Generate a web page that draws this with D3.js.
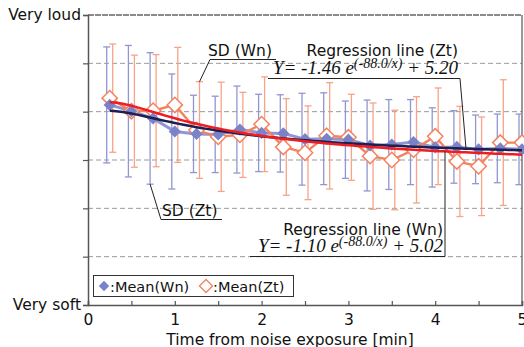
<!DOCTYPE html>
<html>
<head>
<meta charset="utf-8">
<script src="https://cdn.jsdelivr.net/npm/d3@7"></script>
<style>
  body { margin: 0; background: #fff; }
  text { font-family: "DejaVu Sans", Arial, sans-serif; fill: #111; }
  .eq { font-family: "Liberation Serif", "Times New Roman", serif; font-style: italic; }
</style>
</head>
<body>
<div id="main"></div>
<script>
const W = 524, H = 347;

// time from noise exposure [min]
const times = [0.25, 0.5, 0.75, 1.0, 1.25, 1.5, 1.75, 2.0, 2.25, 2.5,
               2.75, 3.0, 3.25, 3.5, 3.75, 4.0, 4.25, 4.5, 4.75, 5.0];
// Wn : means and SD
const meanWn = [5.14, 5.01, 4.86, 4.59, 4.54, 4.53, 4.63, 4.56, 4.55, 4.43,
                4.44, 4.42, 4.30, 4.32, 4.37, 4.26, 4.27, 4.22, 4.24, 4.22];
const sdWn   = [1.20, 1.36, 1.36, 1.19, 0.80, 0.79, 0.90, 0.80, 0.80, 0.95,
                0.95, 0.80, 0.94, 0.93, 0.88, 0.82, 0.75, 0.71, 0.71, 0.73];
// Zt : means and SD
const meanZt = [5.28, 5.01, 5.02, 5.14, 4.62, 4.48, 4.52, 4.74, 4.27, 4.15,
                4.50, 4.47, 4.08, 4.00, 4.21, 4.49, 3.97, 3.87, 4.36, 4.36];
const sdZt   = [1.12, 1.16, 1.16, 1.19, 1.00, 1.13, 0.88, 0.98, 1.00, 0.97,
                1.10, 0.89, 1.10, 1.03, 1.10, 1.00, 1.14, 1.02, 1.30, 1.20];
// regression Y = a e^(-b/x) + c, x in seconds
const regWn = [-1.10, 88.0, 5.02];
const regZt = [-1.46, 88.0, 5.20];

const xTicks = [0, 1, 2, 3, 4, 5];
const yLabels = ["Very soft", "Very loud"];

const C = {
    blue: "#7b83c8", blueBar: "#9096d2",
    orange: "#f4825f", orangeBar: "#f8a388",
    navy: "#1d1e52", red: "#ee1d23"
};
const FS = 15.5;

const svg = d3.select("#main").append("svg").attr("width", W).attr("height", H);

const x = d3.scaleLinear().domain([0, 5]).range([88, 522]);
const y = d3.scaleLinear().domain([1, 7]).range([305, 15]);

function reg(p, t) { return p[0] * Math.exp(-p[1] / (t * 60)) + p[2]; }

// grid lines
svg.append("g").selectAll("line")
    .data([2, 3, 4, 5, 6])
    .enter().append("line")
    .attr("x1", x(0)).attr("x2", x(5))
    .attr("y1", d => y(d)).attr("y2", d => y(d))
    .attr("stroke", "#9a9a9a").attr("stroke-dasharray", "5,3");
// top and right frame
svg.append("line").attr("x1", x(0)).attr("x2", x(5)).attr("y1", y(7)).attr("y2", y(7))
    .attr("stroke", "#666").attr("stroke-width", 1.5).attr("stroke-dasharray", "6,1");
svg.append("line").attr("x1", x(5)).attr("x2", x(5)).attr("y1", y(7)).attr("y2", y(1))
    .attr("stroke", "#555").attr("stroke-width", 1.2);

// y axis (outer ticks on grid rows, end labels)
const yAxis = d3.axisLeft(y).tickValues([1, 2, 3, 4, 5, 6, 7]).tickSize(5)
    .tickFormat(d => d === 1 ? yLabels[0] : d === 7 ? yLabels[1] : "");
const gy = svg.append("g").attr("transform", `translate(${x(0)},0)`).call(yAxis);
gy.select(".domain").attr("stroke", "#555").attr("stroke-width", 1.5);
gy.selectAll(".tick line").attr("stroke", "#555").attr("stroke-width", 1.2);
gy.selectAll("text").attr("font-size", FS).attr("dx", 1).style("font-family", "DejaVu Sans, Arial, sans-serif");

// x axis (inner ticks every 0.5)
const gx = svg.append("g").attr("transform", `translate(0,${y(1)})`)
    .call(d3.axisBottom(x).tickValues(d3.range(0, 5.01, 0.5)).tickSize(-4).tickPadding(9)
        .tickFormat(d => xTicks.includes(d) ? d : ""));
gx.select(".domain").attr("stroke", "#555").attr("stroke-width", 1.5);
gx.selectAll(".tick line").attr("stroke", "#555").attr("stroke-width", 1.2);
gx.selectAll("text").attr("font-size", FS).style("font-family", "DejaVu Sans, Arial, sans-serif");

svg.append("text").attr("x", 290).attr("y", 345).attr("text-anchor", "middle")
    .attr("font-size", FS).text("Time from noise exposure [min]");

// error bars
function errBars(means, sds, dx, col) {
    const g = svg.append("g").attr("stroke", col).attr("stroke-width", 1.3);
    times.forEach((t, i) => {
        const xp = x(t) + dx, y0 = y(means[i] + sds[i]), y1 = y(means[i] - sds[i]);
        if (xp > W) return;
        g.append("line").attr("x1", xp).attr("x2", xp).attr("y1", y0).attr("y2", y1);
        g.append("line").attr("x1", xp - 3.5).attr("x2", xp + 3.5).attr("y1", y0).attr("y2", y0);
        g.append("line").attr("x1", xp - 3.5).attr("x2", xp + 3.5).attr("y1", y1).attr("y2", y1);
    });
}
errBars(meanWn, sdWn, -3, C.blueBar);
errBars(meanZt, sdZt, 3, C.orangeBar);

// mean lines
const line = d3.line().x(d => x(d[0])).y(d => y(d[1]));
svg.append("path").datum(times.map((t, i) => [t, meanWn[i]]))
    .attr("d", line).attr("fill", "none").attr("stroke", C.blueBar).attr("stroke-width", 3);
svg.append("path").datum(times.map((t, i) => [t, meanZt[i]]))
    .attr("d", line).attr("fill", "none").attr("stroke", C.orange).attr("stroke-width", 2.4);

// markers
const diamond = d3.symbol().type(d3.symbolDiamond2);
svg.append("g").selectAll("path")
    .data(times.map((t, i) => [t, meanZt[i]]))
    .enter().append("path")
    .attr("d", diamond.size(150)())
    .attr("transform", d => `translate(${x(d[0])},${y(d[1])})`)
    .attr("fill", "#fff").attr("stroke", C.orange).attr("stroke-width", 1.5);
svg.append("g").selectAll("path")
    .data(times.map((t, i) => [t, meanWn[i]]))
    .enter().append("path")
    .attr("d", diamond.size(95)())
    .attr("transform", d => `translate(${x(d[0])},${y(d[1])})`)
    .attr("fill", C.blue);

// regression curves
const tt = d3.range(0.25, 5.001, 0.05);
svg.append("path").datum(tt.map(t => [t, reg(regWn, t)]))
    .attr("d", line).attr("fill", "none").attr("stroke", C.navy).attr("stroke-width", 2.5);
svg.append("path").datum(tt.map(t => [t, reg(regZt, t)]))
    .attr("d", line).attr("fill", "none").attr("stroke", C.red).attr("stroke-width", 2.5);

// annotations
const ann = svg.append("g").attr("stroke", "#222").attr("stroke-width", 1).attr("fill", "none");

// SD (Wn)
svg.append("text").attr("x", 208).attr("y", 56).attr("font-size", FS).text("SD (Wn)");
ann.append("polyline").attr("points",
    `${x(1.25) + 3},${y(meanZt[4] + sdZt[4])} 210,59.5 276,59.5`);

// SD (Zt)
svg.append("text").attr("x", 162).attr("y", 216).attr("font-size", FS).text("SD (Zt)");
ann.append("polyline").attr("points",
    `${x(0.75) - 3},${y(meanWn[2] - sdWn[2])} 161,219.5 222,219.5`);

// Regression line (Zt)
svg.append("text").attr("x", 458).attr("y", 56).attr("text-anchor", "end").attr("font-size", FS).text("Regression line (Zt)");
function eqText(xe, ye, p) {
    const t = svg.append("text").attr("class", "eq").attr("x", xe).attr("y", ye)
        .attr("text-anchor", "end").attr("font-size", 19);
    t.append("tspan").text(`Y= ${p[0].toFixed(2)} e`);
    t.append("tspan").attr("dy", -6).attr("font-size", 14).text(`(-${p[1].toFixed(1)}/x)`);
    t.append("tspan").attr("dy", 6).text(` + ${p[2].toFixed(2)}`);
}
eqText(458, 74, regZt);
ann.append("polyline").attr("points",
    `268,78.5 460,78.5 466,${y(reg(regWn, x.invert(466)))}`);

// Regression line (Wn)
svg.append("text").attr("x", 443).attr("y", 235).attr("text-anchor", "end").attr("font-size", FS).text("Regression line (Wn)");
eqText(443, 252, regWn);
ann.append("polyline").attr("points",
    `250,256.5 445,256.5 445,${y(reg(regZt, x.invert(445)))}`);

// legend
const lg = svg.append("g");
lg.append("rect").attr("x", 93.5).attr("y", 275.5).attr("width", 200).attr("height", 21)
    .attr("fill", "#fff").attr("stroke", "#333").attr("stroke-width", 1);
lg.append("path").attr("d", diamond.size(70)()).attr("transform", "translate(104,286)").attr("fill", C.blue);
lg.append("text").attr("x", 110).attr("y", 291.5).attr("font-size", 14.5).text(":Mean(Wn)");
lg.append("path").attr("d", diamond.size(110)()).attr("transform", "translate(206,286)")
    .attr("fill", "#fff").attr("stroke", C.orange).attr("stroke-width", 1.3);
lg.append("text").attr("x", 213).attr("y", 291.5).attr("font-size", 14.5).text(":Mean(Zt)");
</script>
</body>
</html>
